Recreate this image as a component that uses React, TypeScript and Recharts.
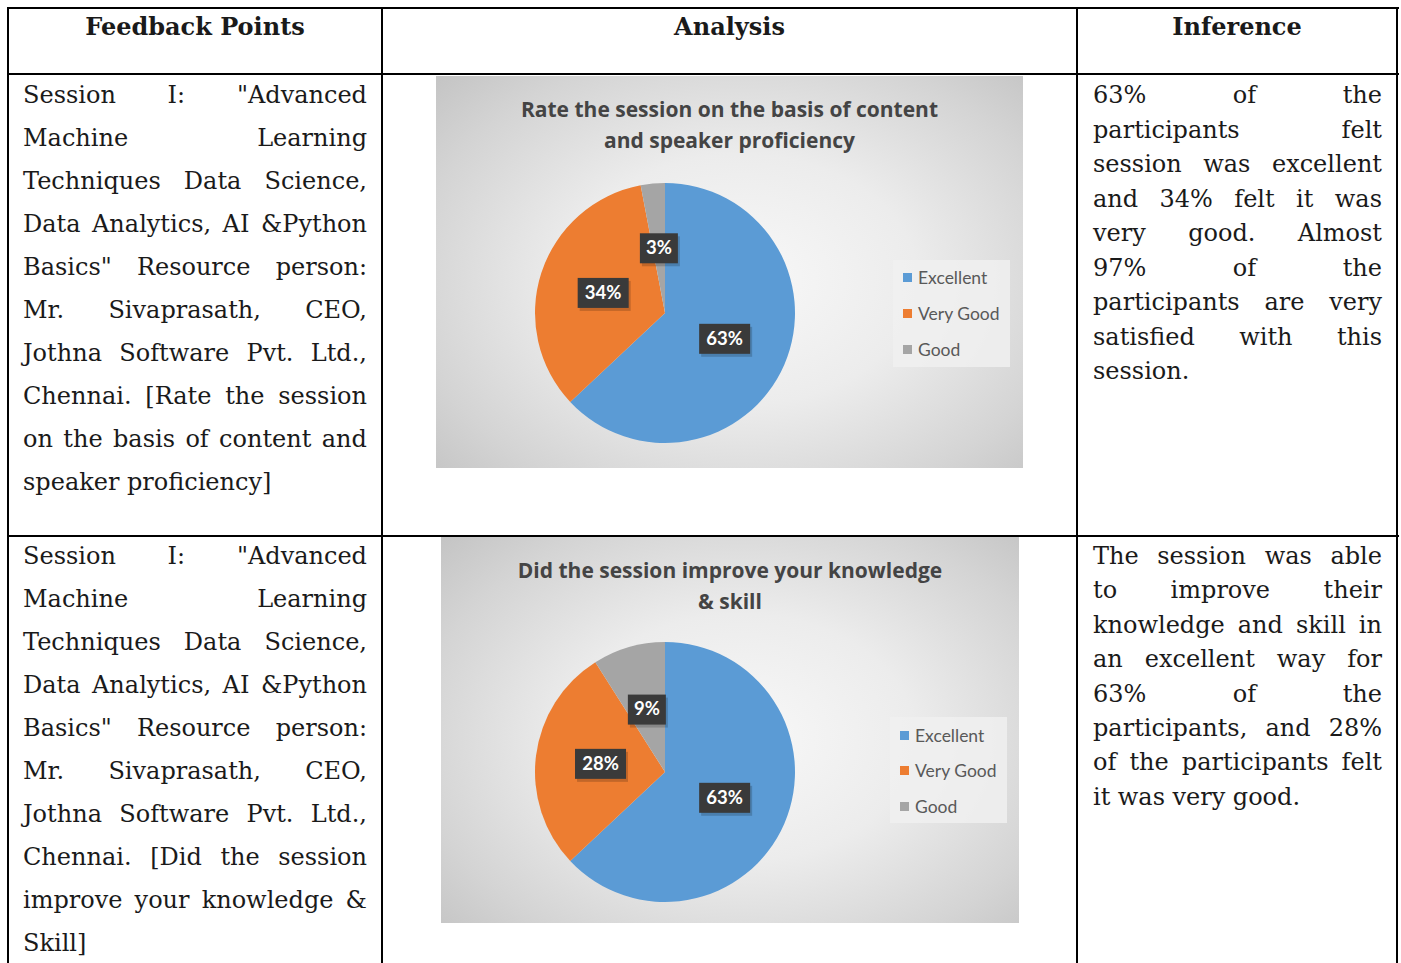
import React from "react";
import { PieChart, Pie, Cell, Legend } from "recharts";

// categories + series values
const categories = ["Excellent", "Very Good", "Good"];
const contentRatings = [63, 34, 3];
const knowledgeRatings = [63, 28, 9];
const sliceColors = ["#5B9BD5", "#ED7D31", "#A5A5A5"];

const headers = ["Feedback Points", "Analysis", "Inference"];

const feedback1 = [
  'Session I: "Advanced',
  "Machine Learning",
  "Techniques Data Science,",
  "Data Analytics, AI &Python",
  'Basics" Resource person:',
  "Mr. Sivaprasath, CEO,",
  "Jothna Software Pvt. Ltd.,",
  "Chennai. [Rate the session",
  "on the basis of content and",
  "speaker proficiency]",
];
const feedback2 = [
  'Session I: "Advanced',
  "Machine Learning",
  "Techniques Data Science,",
  "Data Analytics, AI &Python",
  'Basics" Resource person:',
  "Mr. Sivaprasath, CEO,",
  "Jothna Software Pvt. Ltd.,",
  "Chennai. [Did the session",
  "improve your knowledge &",
  "Skill]",
];
const inference1 = [
  "63% of the",
  "participants felt",
  "session was excellent",
  "and 34% felt it was",
  "very good. Almost",
  "97% of the",
  "participants are very",
  "satisfied with this",
  "session.",
];
const inference2 = [
  "The session was able",
  "to improve their",
  "knowledge and skill in",
  "an excellent way for",
  "63% of the",
  "participants, and 28%",
  "of the participants felt",
  "it was very good.",
];

const bodyFont = "'DejaVu Serif', serif";
const titleFont = "'Open Sans', Lato, sans-serif";
const chartFont = "Lato, 'Open Sans', sans-serif";
const RAD = Math.PI / 180;

function Para({ lines, left, width, top, step }) {
  return (
    <>
      {lines.map((ln, i) => {
        const last = i === lines.length - 1;
        const words = ln.split(" ");
        return (
          <div
            key={i}
            style={{
              position: "absolute",
              left,
              width,
              top: top + i * step - 15,
              height: 30,
              display: "flex",
              alignItems: "center",
              justifyContent: last ? "flex-start" : "space-between",
              gap: last ? 7.5 : 0,
              whiteSpace: "nowrap",
              fontFamily: bodyFont,
              fontSize: 24,
              color: "#1a1a1a",
            }}
          >
            {words.map((w, j) => (
              <span key={j}>{w}</span>
            ))}
          </div>
        );
      })}
    </>
  );
}

function renderLabel(props) {
  const { cx, cy, midAngle, outerRadius, value } = props;
  const r = outerRadius * 0.5;
  const x = cx + r * Math.cos(-midAngle * RAD);
  const y = cy + r * Math.sin(-midAngle * RAD);
  const txt = value + "%";
  const w = txt.length * 13 + 12;
  return (
    <g>
      <rect x={x - w / 2 + 2} y={y - 15 + 3} width={w} height={30} fill="#000" opacity={0.18} />
      <rect x={x - w / 2} y={y - 15} width={w} height={30} fill="#3a3a3a" />
      <text
        x={x}
        y={y + 1}
        textAnchor="middle"
        dominantBaseline="middle"
        fill="#ffffff"
        fontFamily={chartFont}
        fontWeight={700}
        fontSize={18.5}
      >
        {txt}
      </text>
    </g>
  );
}

function LegendBox({ payload, w, h, first, step }) {
  const items = [...(payload || [])].sort(
    (a, b) => categories.indexOf(a.value) - categories.indexOf(b.value)
  );
  return (
    <div
      style={{
        position: "relative",
        width: w,
        height: h,
        background: "rgba(240,240,240,0.85)",
      }}
    >
      {items.map((p, i) => (
        <div
          key={i}
          style={{
            position: "absolute",
            left: 10,
            top: first + i * step - 12,
            height: 24,
            display: "flex",
            alignItems: "center",
            whiteSpace: "nowrap",
            fontFamily: chartFont,
            fontSize: 17.5,
            color: "#595959",
          }}
        >
          <span
            style={{
              display: "inline-block",
              width: 9,
              height: 9,
              background: p.color,
              marginRight: 6,
            }}
          />
          {p.value}
        </div>
      ))}
    </div>
  );
}

function RatingPie({ title, values, left, top, width, height, cx, cy, legend }) {
  const data = categories.map((name, i) => ({ name, value: values[i] }));
  return (
    <div
      style={{
        position: "absolute",
        left,
        top,
        width,
        height,
        background:
          "radial-gradient(ellipse 75% 80% at 52% 52%, #f8f8f8 0%, #ececec 40%, #d4d4d4 75%, #c0c0c0 100%)",
      }}
    >
      <div
        style={{
          position: "absolute",
          left: 0,
          width: "100%",
          top: 18,
          textAlign: "center",
          fontFamily: titleFont,
          fontWeight: 700,
          fontSize: 21,
          lineHeight: "31px",
          color: "#444444",
        }}
      >
        {title.map((t, i) => (
          <div key={i}>{t}</div>
        ))}
      </div>
      <PieChart
        width={width}
        height={height}
        margin={{ top: 0, right: 0, bottom: 0, left: 0 }}
        style={{ position: "absolute", left: 0, top: 0 }}
      >
        <Pie
          data={data}
          dataKey="value"
          nameKey="name"
          cx={cx}
          cy={cy}
          outerRadius={130}
          startAngle={90}
          endAngle={-270}
          stroke="none"
          label={renderLabel}
          labelLine={false}
          isAnimationActive={false}
        >
          {data.map((d, i) => (
            <Cell key={d.name} fill={sliceColors[i]} />
          ))}
        </Pie>
        <Legend
          layout="vertical"
          wrapperStyle={{ position: "absolute", left: legend.x, top: legend.y, width: legend.w }}
          content={(p) => (
            <LegendBox payload={p.payload} w={legend.w} h={legend.h} first={legend.first} step={legend.step} />
          )}
        />
      </PieChart>
    </div>
  );
}

function Rule({ x, y, w, h }) {
  return <div style={{ position: "absolute", left: x, top: y, width: w, height: h, background: "#000" }} />;
}

export default function App() {
  return (
    <div
      style={{
        position: "fixed",
        left: 0,
        top: 0,
        width: 1401,
        height: 963,
        overflow: "hidden",
        background: "#ffffff",
      }}
    >
      {/* table rules */}
      <Rule x={7} y={7} w={1392} h={2} />
      <Rule x={7} y={73} w={1392} h={2} />
      <Rule x={7} y={535} w={1392} h={2} />
      <Rule x={7} y={7} w={2} h={960} />
      <Rule x={381} y={7} w={2} h={960} />
      <Rule x={1076} y={7} w={2} h={960} />
      <Rule x={1396} y={7} w={2} h={960} />

      {headers.map((h, i) => {
        const spans = [
          [9, 381],
          [383, 1076],
          [1078, 1396],
        ][i];
        return (
          <div
            key={h}
            style={{
              position: "absolute",
              left: spans[0],
              width: spans[1] - spans[0],
              top: 12,
              height: 30,
              lineHeight: "30px",
              textAlign: "center",
              fontFamily: bodyFont,
              fontWeight: 700,
              fontSize: 24,
              color: "#1a1a1a",
            }}
          >
            {h}
          </div>
        );
      })}

      <Para lines={feedback1} left={23} width={344} top={95} step={43} />
      <Para lines={inference1} left={1093} width={289} top={95} step={34.5} />
      <Para lines={feedback2} left={23} width={344} top={556} step={43} />
      <Para lines={inference2} left={1093} width={289} top={556} step={34.4} />

      <RatingPie
        title={["Rate the session on the basis of content", "and speaker proficiency"]}
        values={contentRatings}
        left={436}
        top={76}
        width={587}
        height={392}
        cx={229}
        cy={237}
        legend={{ x: 457, y: 184, w: 117, h: 107, first: 17, step: 36 }}
      />
      <RatingPie
        title={["Did the session improve your knowledge", "& skill"]}
        values={knowledgeRatings}
        left={441}
        top={537}
        width={578}
        height={386}
        cx={224}
        cy={235}
        legend={{ x: 449, y: 180, w: 117, h: 106, first: 18, step: 35.5 }}
      />
    </div>
  );
}
